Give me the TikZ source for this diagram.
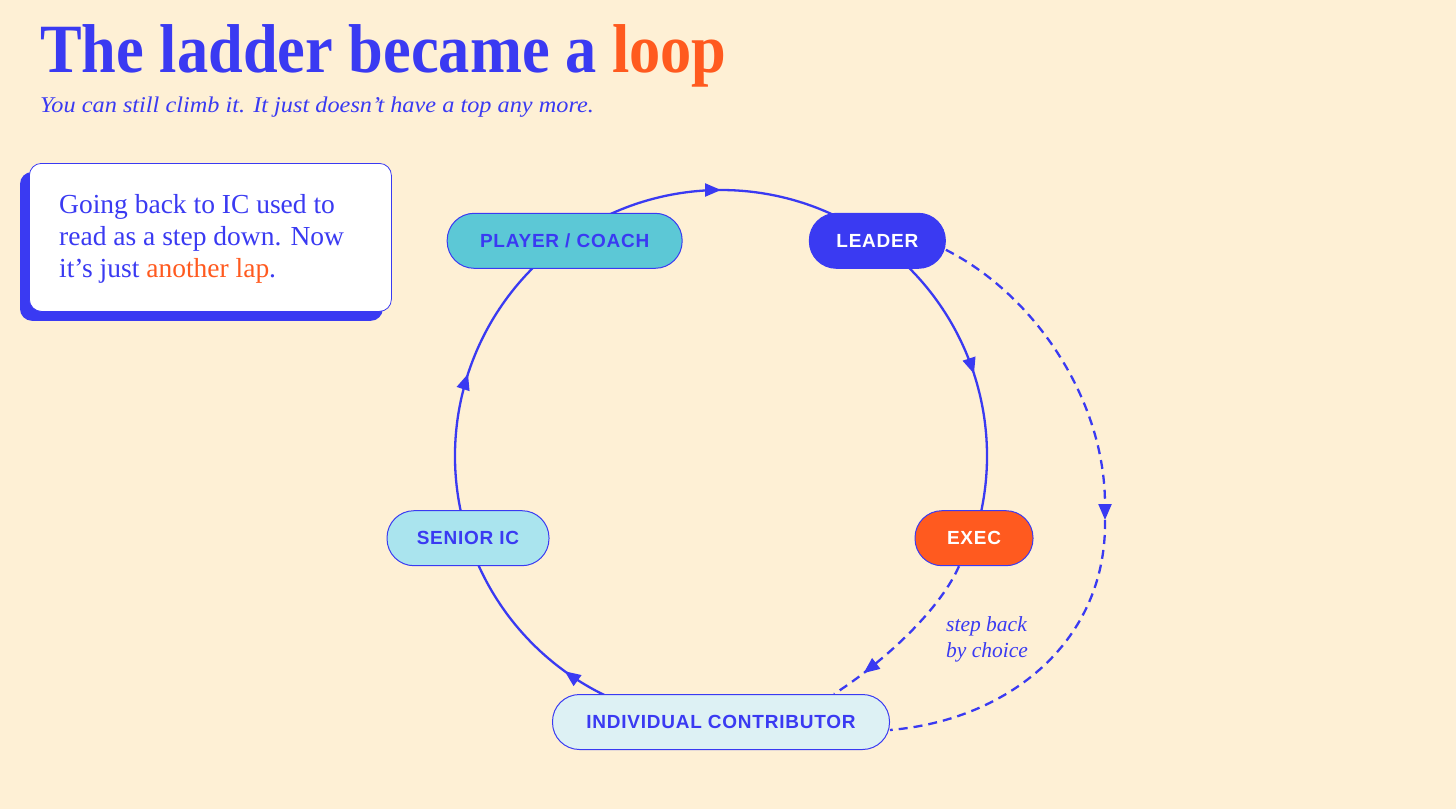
\documentclass[tikz,border=0pt]{standalone}
\usepackage{fontspec}
\setmainfont{Liberation Serif}
\newfontfamily\labelfont[LetterSpace=4]{Liberation Sans}
\usetikzlibrary{arrows.meta,decorations.markings,backgrounds,calc}
\definecolor{bgc}{HTML}{FEF0D5}
\definecolor{ink}{HTML}{3A3AF2}
\definecolor{accent}{HTML}{FF5A1F}
\definecolor{pcfill}{HTML}{5CC8D6}
\definecolor{srfill}{HTML}{AAE4EE}
\definecolor{icfill}{HTML}{DDF1F4}
\tikzset{
  pill/.style={draw=ink, line width=1pt, rounded corners=27pt, minimum height=55pt, inner sep=0pt,
    font=\labelfont\bfseries\fontsize{19}{22}\selectfont, text=ink},
  loopline/.style={draw=ink, color=ink, line width=2.3pt},
  dashline/.style={draw=ink, color=ink, line width=2.3pt, dash pattern=on 9pt off 6pt},
  midarrow/.style={postaction={decorate}, decoration={markings,
    mark=at position #1 with {\arrow{Triangle[length=16pt,width=13pt]}}}},
  endarrow/.style={-{Triangle[length=16pt,width=13pt]}},
  notetext/.style={anchor=base west, inner sep=0pt, text=ink, font=\fontsize{27.5}{32}\selectfont},
  steplabel/.style={anchor=base west, inner sep=0pt, text=ink, font=\itshape\fontsize{21.5}{26}\selectfont},
}
\begin{document}
\begin{tikzpicture}[x=1pt,y=-1pt]
\useasboundingbox (0,0) rectangle (1456,809);
% title
\node[anchor=base west, inner sep=0pt, text=ink, font=\bfseries\fontsize{64}{70}\selectfont] (title) at (40,72)
  {\scalebox{0.975}[1.08]{The ladder became a \textcolor{accent}{loop}}};
\node[anchor=base west, inner sep=0pt, text=ink, font=\itshape\fontsize{22.5}{26}\selectfont] (subtitle) at (40,112)
  {\scalebox{1.08}[1]{You can still climb it. It just doesn’t have a top any more.}};
% note box
\node[draw=ink, line width=0.8pt, fill=white, rounded corners=12pt, minimum width=362pt, minimum height=148pt,
  anchor=north west, inner sep=0pt] (note) at (29,163) {};
\node[notetext] (nt1) at (59,213) {Going back to IC used to};
\node[notetext] (nt2) at (59,245) {read as a step down. Now};
\node[notetext] (nt3) at (59,277) {it’s just \textcolor{accent}{another lap}.};
% nodes on the loop
\node[pill, fill=icfill, minimum width=337pt] (ic) at (721,722) {INDIVIDUAL CONTRIBUTOR};
\node[pill, fill=srfill, minimum width=162pt] (sr) at (468,538.2) {SENIOR IC};
\node[pill, fill=pcfill, minimum width=235pt] (pc) at (564.65,240.8) {PLAYER / COACH};
\node[pill, fill=ink, text=white, minimum width=136pt] (ld) at (877.35,240.8) {LEADER};
\node[pill, fill=accent, text=white, minimum width=118pt] (ex) at (974,538.2) {EXEC};
% dashed connectors
\draw[dashline, midarrow=0.8] ([xshift=-15pt]ex.south) .. controls (937,616) and (872,670) .. ([xshift=113pt]ic.north);
\coordinate (bend) at (1105,520);
\draw[dashline, endarrow] ([yshift=-9pt]ld.east) .. controls (1035,295) and (1105,400) .. (bend);
\draw[dashline] (bend) .. controls (1107,640) and (1010,720) .. ([yshift=-8pt]ic.east);
\node[steplabel] (sl1) at (946,631) {step back};
\node[steplabel] (sl2) at (946,657) {by choice};
% background layer: page, shadow, loop arcs
\begin{scope}[on background layer]
  \fill[bgc] (0,0) rectangle (1456,809);
  \fill[ink, rounded corners=12pt] ([shift={(-9pt,-9pt)}]note.north west) rectangle ([shift={(-9pt,-9pt)}]note.south east);
  \draw[loopline, midarrow=0.5] (ic.center) arc[start angle=270, end angle=198, radius=266pt];
  \draw[loopline, midarrow=0.5] (sr.center) arc[start angle=198, end angle=126, radius=266pt];
  \draw[loopline, midarrow=0.5] (pc.center) arc[start angle=126, end angle=54, radius=266pt];
  \draw[loopline, midarrow=0.5] (ld.center) arc[start angle=54, end angle=-18, radius=266pt];
\end{scope}
\end{tikzpicture}
\end{document}
